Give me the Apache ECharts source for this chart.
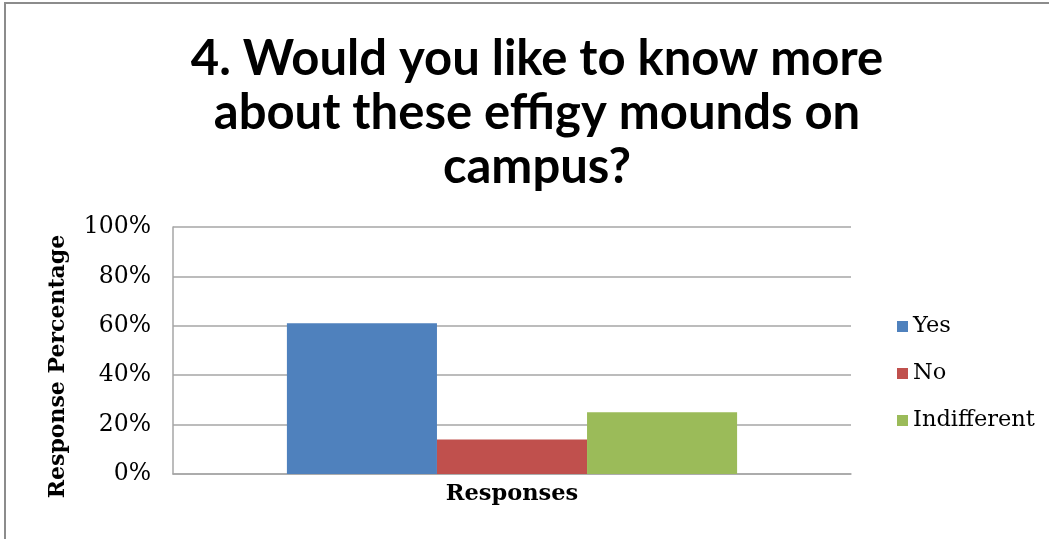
<!DOCTYPE html>
<html><head><meta charset="utf-8">
<script src="https://cdn.jsdelivr.net/npm/echarts@6/dist/echarts.min.js"></script>
<style>
html,body{margin:0;padding:0;background:#fff;}
#frame{position:absolute;left:4px;top:2px;width:1045px;height:537px;border-left:2px solid #8c8c8c;border-top:2px solid #8c8c8c;box-sizing:border-box;}
#c{position:absolute;left:0;top:0;width:1049px;height:539px;}
</style></head>
<body>
<div id="frame"></div>
<div id="c"></div>
<script>
const categories = ["Responses"];
const seriesNames = ["Yes", "No", "Indifferent"];
const yesValues = [61];
const noValues = [14];
const indifferentValues = [25];
const yTicks = [0, 20, 40, 60, 80, 100];
const colors = ["#4f81bd", "#c0504d", "#9bbb59"];
const titleText = "4. Would you like to know more\nabout these effigy mounds on\ncampus?";

const chart = echarts.init(document.getElementById('c'));
const serif = "'DejaVu Serif', 'Liberation Serif', serif";
const dataSets = [yesValues, noValues, indifferentValues];
chart.setOption({
  animation: false,
  title: {
    text: titleText,
    left: 532, top: 27, textAlign: 'center',
    textStyle: { fontFamily: "Lato, 'Open Sans', sans-serif", fontWeight: 'bold', fontSize: 49, lineHeight: 54, color: '#000' }
  },
  legend: {
    orient: 'vertical', left: 892, top: 310, itemGap: 24,
    itemWidth: 11, itemHeight: 11, icon: 'rect',
    textStyle: { fontFamily: serif, fontSize: 22.5, color: '#000' },
    data: seriesNames
  },
  grid: { left: 173, right: 198, top: 227, bottom: 65, containLabel: false },
  xAxis: {
    type: 'category', data: categories,
    axisLine: { lineStyle: { color: '#a6a6a6', width: 1.5 } },
    axisTick: { show: false },
    axisLabel: { fontFamily: serif, fontWeight: 'bold', fontSize: 22.5, color: '#000', margin: 9 }
  },
  yAxis: {
    type: 'value', min: 0, max: 100, interval: 20,
    name: 'Response Percentage', nameLocation: 'middle', nameGap: 104,
    nameTextStyle: { fontFamily: serif, fontWeight: 'bold', fontSize: 22, color: '#000', padding: [0, 32, 0, 0] },
    axisLine: { show: true, lineStyle: { color: '#a6a6a6', width: 1.5 } },
    axisTick: { show: false },
    splitLine: { lineStyle: { color: '#a6a6a6', width: 1.5 } },
    axisLabel: {
      fontFamily: serif, fontSize: 23.5, color: '#000', margin: 22,
      padding: [6, 0, 0, 0],
      formatter: v => yTicks.includes(v) ? v + '%' : ''
    }
  },
  series: seriesNames.map((n, i) => ({
    name: n, type: 'bar', data: dataSets[i],
    itemStyle: { color: colors[i] },
    barGap: '0%', barCategoryGap: '33.6%'
  }))
});
</script>
</body></html>
